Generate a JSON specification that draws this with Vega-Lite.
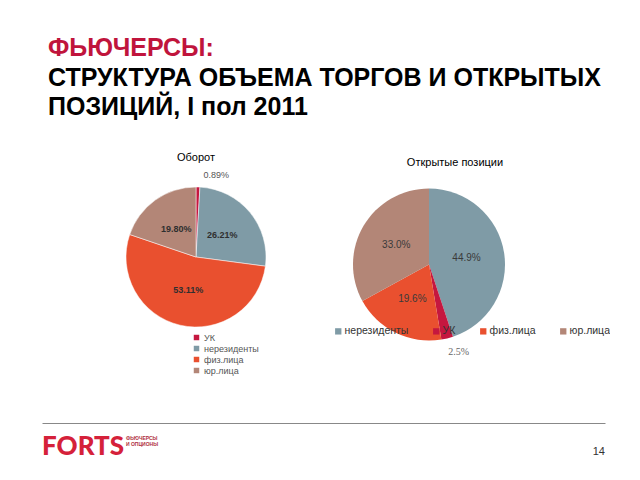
{
  "$schema": "https://vega.github.io/schema/vega-lite/v6.json",
  "padding": {"left": 42, "top": 36, "right": 0, "bottom": 0},
  "background": "white",
  "config": {"view": {"stroke": null}, "font": "Liberation Sans"},
  "title": {
    "text": "ФЬЮЧЕРСЫ:",
    "subtitle": ["СТРУКТУРА ОБЪЕМА ТОРГОВ И ОТКРЫТЫХ", "ПОЗИЦИЙ, I пол 2011"],
    "anchor": "start",
    "frame": "group",
    "dx": 6,
    "font": "Liberation Sans",
    "fontSize": 25,
    "fontWeight": "bold",
    "color": "#c0143c",
    "subtitleFont": "Liberation Sans",
    "subtitleFontSize": 25,
    "subtitleFontWeight": "bold",
    "subtitleColor": "#000000",
    "subtitleLineHeight": 29,
    "subtitlePadding": 5,
    "offset": 32
  },
  "datasets": {
    "turnover": [
      {"cat": "УК", "value": 0.89, "label": "0.89%", "ord": 1},
      {"cat": "нерезиденты", "value": 26.21, "label": "26.21%", "ord": 2},
      {"cat": "физ.лица", "value": 53.11, "label": "53.11%", "ord": 3},
      {"cat": "юр.лица", "value": 19.8, "label": "19.80%", "ord": 4}
    ],
    "oi": [
      {"cat": "нерезиденты", "value": 44.9, "label": "44.9%", "ord": 1},
      {"cat": "УК", "value": 2.5, "label": "2.5%", "ord": 2},
      {"cat": "физ.лица", "value": 19.6, "label": "19.6%", "ord": 3},
      {"cat": "юр.лица", "value": 33.0, "label": "33.0%", "ord": 4}
    ],
    "footer": [
      {"k": "FORTS", "tag": ["ФЬЮЧЕРСЫ", "И ОПЦИОНЫ"]},
      {"k": "14", "tag": ""}
    ]
  },
  "spacing": 47,
  "vconcat": [
    {
      "bounds": "flush",
      "spacing": 0,
      "resolve": {"scale": {"color": "independent"}, "legend": {"color": "independent"}},
      "hconcat": [
        {
          "width": 308,
          "height": 166,
          "title": {"text": "Оборот", "fontSize": 11, "fontWeight": "normal", "font": "Liberation Sans", "color": "#000", "offset": 8, "anchor": "middle"},
          "data": {"name": "turnover"},
          "encoding": {
            "theta": {"field": "value", "type": "quantitative", "stack": true},
            "order": {"field": "ord", "type": "quantitative"},
            "color": {
              "field": "cat", "type": "nominal",
              "scale": {"domain": ["УК", "нерезиденты", "физ.лица", "юр.лица"], "range": ["#c5173f", "#7f9ba6", "#e9502f", "#b38677"]},
              "legend": {"orient": "none", "legendX": 150, "legendY": 159, "title": null, "direction": "vertical", "symbolType": "square", "symbolSize": 30, "labelFontSize": 9, "labelColor": "#555", "rowPadding": 1, "labelOffset": 3, "symbolStrokeWidth": 0}
            }
          },
          "layer": [
            {"mark": {"type": "arc", "radius": 70, "stroke": "white", "strokeWidth": 0.5}},
            {"mark": {"type": "text", "radius": 34, "fontSize": 9, "fontWeight": "bold"},
             "encoding": {"text": {"field": "label"}, "color": {"value": "#2f2f2f"}, "opacity": {"condition": {"test": "datum.value < 5", "value": 0}, "value": 1}}},
            {"mark": {"type": "text", "radius": 82, "fontSize": 9, "dx": 18},
             "encoding": {"text": {"field": "label"}, "color": {"value": "#555"}, "opacity": {"condition": {"test": "datum.value < 5", "value": 1}, "value": 0}}}
          ]
        },
        {
          "width": 158,
          "height": 181,
          "title": {"text": "Открытые позиции", "fontSize": 11, "fontWeight": "normal", "font": "Liberation Sans", "color": "#000", "offset": 6, "anchor": "middle", "dx": 26},
          "data": {"name": "oi"},
          "encoding": {
            "theta": {"field": "value", "type": "quantitative", "stack": true},
            "order": {"field": "ord", "type": "quantitative"},
            "color": {
              "field": "cat", "type": "nominal",
              "scale": {"domain": ["нерезиденты", "УК", "физ.лица", "юр.лица"], "range": ["#7f9ba6", "#c5173f", "#e9502f", "#b38677"]},
              "legend": {"orient": "none", "legendX": -17, "legendY": 152, "title": null, "direction": "horizontal", "columns": 4, "symbolType": "square", "symbolSize": 40, "labelFontSize": 10.5, "labelColor": "#333", "columnPadding": 22, "labelOffset": 1, "symbolStrokeWidth": 0}
            }
          },
          "layer": [
            {"mark": {"type": "arc", "radius": 76}},
            {"mark": {"type": "text", "radius": 38, "fontSize": 10},
             "encoding": {"text": {"field": "label"}, "color": {"value": "#3a3a3a"}, "opacity": {"condition": {"test": "datum.value < 5", "value": 0}, "value": 1}}},
            {"mark": {"type": "text", "radius": 90, "fontSize": 10, "font": "Liberation Serif", "dx": 8},
             "encoding": {"text": {"field": "label"}, "color": {"value": "#666"}, "opacity": {"condition": {"test": "datum.value < 5", "value": 1}, "value": 0}}}
          ]
        }
      ]
    },
    {
      "width": 563,
      "height": 48,
      "data": {"name": "footer"},
      "encoding": {
        "x": {"field": "k", "type": "nominal", "scale": {"type": "point", "padding": 0, "domain": ["FORTS", "14"]},
              "axis": {"orient": "top", "domainColor": "#888", "domainWidth": 1, "ticks": false, "labels": false, "title": null, "grid": false}}
      },
      "layer": [
        {"transform": [{"filter": "datum.k == 'FORTS'"}],
         "mark": {"type": "text", "align": "left", "baseline": "middle", "font": "Lato", "fontWeight": 900, "fontSize": 26, "color": "#d5213a"},
         "encoding": {"text": {"field": "k"}}},
        {"transform": [{"filter": "datum.k == 'FORTS'"}],
         "mark": {"type": "text", "align": "left", "baseline": "top", "fontSize": 5, "fontWeight": "bold", "color": "#b0303e", "dx": 84, "dy": -11, "lineHeight": 5.5},
         "encoding": {"text": {"field": "tag"}}},
        {"transform": [{"filter": "datum.k == '14'"}],
         "mark": {"type": "text", "align": "right", "baseline": "middle", "fontSize": 11, "color": "#333", "dy": 5},
         "encoding": {"text": {"field": "k"}}}
      ]
    }
  ]
}
